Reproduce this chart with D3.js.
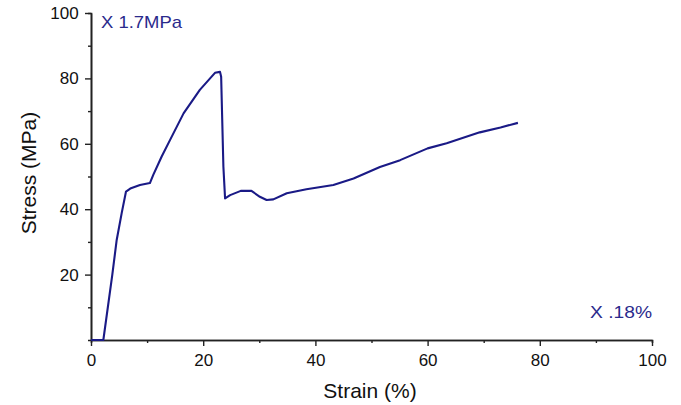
<!DOCTYPE html>
<html><head><meta charset="utf-8">
<script src="https://cdn.jsdelivr.net/npm/d3@7"></script>
<style>body{margin:0;background:#fff}svg{display:block}text{font-family:"Liberation Sans",Arial,sans-serif}</style>
</head><body>
<svg id="c" width="681" height="405"></svg>
<script>
const strain = [0,2.2,3.8,4.58,5.47,6.24,7.0,8.73,10.5,11.1,12.6,14.1,16.5,19.4,22.1,23.0,23.2,23.6,23.9,24.8,26.7,28.6,30.1,31.3,32.5,34.9,38.4,43.2,46.8,51.5,55.1,60.0,63.4,69.3,73.0,76.1];
const stress = [0,0,20,30.6,38.8,45.4,46.3,47.4,48.0,50.5,56.1,61.2,69.3,76.5,81.7,82.0,80.5,53,43.3,44.3,45.6,45.6,43.8,42.8,43.0,44.9,46.1,47.4,49.4,52.9,55.0,58.6,60.2,63.5,65.0,66.4];
const xMajor = [0,20,40,60,80,100];
const xMinor = [10,30,50,70,90];
const yMajor = [20,40,60,80,100];
const yMinor = [10,30,50,70,90];
const unitLabels = ["X 1.7MPa","X .18%"];

const svg = d3.select("#c");
const x = d3.scaleLinear().domain([0,100]).range([91,652]);
const y = d3.scaleLinear().domain([0,100]).range([340,13]);
const axisColor = "#222";

const gx = svg.append("g").attr("transform","translate(0,340)");
gx.call(d3.axisBottom(x).tickValues(xMajor).tickSize(6).tickSizeOuter(0).tickFormat(d3.format("d")));
gx.append("g").call(d3.axisBottom(x).tickValues(xMinor).tickSize(3).tickFormat(""));
const gy = svg.append("g").attr("transform","translate(91,0)");
gy.call(d3.axisLeft(y).tickValues(yMajor).tickSize(6).tickSizeOuter(0).tickFormat(d3.format("d")));
gy.append("g").call(d3.axisLeft(y).tickValues(yMinor).tickSize(3).tickFormat(""));
svg.selectAll(".domain").attr("stroke",axisColor).attr("stroke-width",1.6);
svg.selectAll(".tick line").attr("stroke",axisColor).attr("stroke-width",1.4);
svg.selectAll(".tick text").attr("font-size",17).attr("fill","#111").attr("font-family","Liberation Sans, Arial, sans-serif");
gx.selectAll(".tick text").attr("dy","1.0em");
gy.selectAll(".tick text").attr("dx","-0.2em");

const line = d3.line().x((d,i)=>x(strain[i])).y((d,i)=>y(stress[i]));
svg.append("path").datum(stress).attr("d",line).attr("fill","none")
  .attr("stroke","#1a1a86").attr("stroke-width",2.1).attr("stroke-linejoin","round");

svg.append("text").attr("x",101).attr("y",28).attr("font-size",17).attr("fill","#2a2a8c")
  .attr("textLength",81).attr("lengthAdjust","spacingAndGlyphs").text(unitLabels[0]);
svg.append("text").attr("x",590).attr("y",318).attr("font-size",17).attr("fill","#2a2a8c")
  .attr("textLength",62).attr("lengthAdjust","spacingAndGlyphs").text(unitLabels[1]);

svg.append("text").attr("x",370).attr("y",398).attr("text-anchor","middle").attr("font-size",21).attr("fill","#111").text("Strain (%)");
svg.append("text").attr("transform","translate(36,173) rotate(-90)").attr("text-anchor","middle").attr("font-size",21).attr("fill","#111").text("Stress (MPa)");
</script>
</body></html>
